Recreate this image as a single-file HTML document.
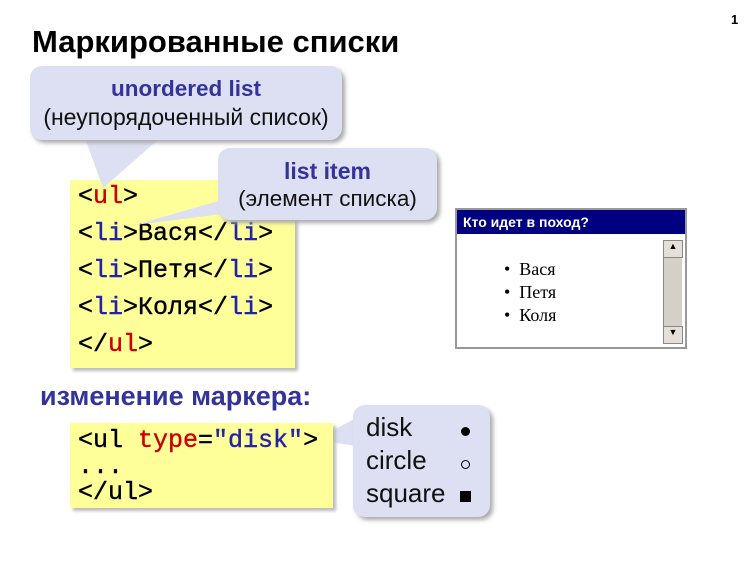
<!DOCTYPE html>
<html><head><meta charset="utf-8"><style>
body{margin:0;width:750px;height:561px;background:#fff;position:relative;overflow:hidden;font-family:"Liberation Sans",sans-serif}
.a{position:absolute}
.code{font-family:"Liberation Mono",monospace;font-size:25px;color:#000;white-space:pre;-webkit-text-stroke:0.4px #000}
.y{background:#ffff99;box-shadow:3px 3px 3px #bbb}
.r{color:#cc0000;-webkit-text-stroke:0.4px #cc0000}.b{color:#2222aa;-webkit-text-stroke:0.4px #2222aa}
.call{background:#dde0f2;border-radius:12px;box-shadow:3px 3px 4px #aaa;text-align:center;color:#111}
</style></head><body>
<div class="a" style="left:731px;top:12px;font-size:13px;font-weight:bold">1</div>
<div class="a" style="left:32px;top:24px;font-size:31px;font-weight:bold;color:#000">Маркированные списки</div>

<div class="a y" style="left:70px;top:180px;width:225px;height:188px"></div>
<div class="a code" style="left:78px;top:178px;line-height:37px">&lt;<span class="r">ul</span>&gt;
&lt;<span class="b">li</span>&gt;Вася&lt;/<span class="b">li</span>&gt;
&lt;<span class="b">li</span>&gt;Петя&lt;/<span class="b">li</span>&gt;
&lt;<span class="b">li</span>&gt;Коля&lt;/<span class="b">li</span>&gt;
&lt;/<span class="r">ul</span>&gt;</div>

<svg class="a" style="left:0;top:0" width="750" height="561">
<polygon points="85,138 160,138 103,188" fill="#dde0f2"/>
<polygon points="222,200 222,214 135,225" fill="#dde0f2"/>
<polygon points="356,418 356,446 315,440" fill="#dde0f2"/>
</svg>
<div class="a call" style="left:30px;top:66px;width:312px;height:74px">
<div style="color:#333399;font-weight:bold;font-size:22.5px;margin-top:10px">unordered list</div>
<div style="font-size:23px;margin-top:2px">(неупорядоченный список)</div></div>
<div class="a call" style="left:218px;top:148px;width:219px;height:72px">
<div style="color:#333399;font-weight:bold;font-size:23px;margin-top:10px">list item</div>
<div style="font-size:22.5px;margin-top:1px">(элемент списка)</div></div>

<div class="a" style="left:455px;top:208px;width:228px;height:137px;border:2px solid #999;background:#fff">
<div style="background:#000080;color:#fff;font-weight:bold;font-size:14px;height:24px;line-height:24px;padding-left:6px">Кто идет в поход?</div>
<div class="a" style="left:206px;top:30px;width:18px;height:104px;background:#d4d0c8;border-left:1px solid #888"></div>
<div class="a" style="left:206px;top:30px;width:18px;height:16px;background:#e4e0d8;border:1px solid #888;font-size:9px;text-align:center">▲</div>
<div class="a" style="left:206px;top:116px;width:18px;height:16px;background:#e4e0d8;border:1px solid #888;font-size:9px;text-align:center">▼</div>
<div class="a" style="left:47px;top:48px;font-family:'Liberation Serif',serif;font-size:18px;line-height:23px">• &nbsp;Вася<br>• &nbsp;Петя<br>• &nbsp;Коля</div>
</div>

<div class="a" style="left:40px;top:381px;font-size:27px;font-weight:bold;color:#333399">изменение маркера:</div>
<div class="a y" style="left:70px;top:423px;width:263px;height:85px"></div>
<div class="a code" style="left:78px;top:428px;line-height:26px">&lt;ul <span class="r">type</span>=<span class="b">"disk"</span>&gt;
...
&lt;/ul&gt;</div>
<div class="a call" style="left:353px;top:405px;width:137px;height:112px;text-align:left">
<div style="font-size:26px;line-height:33px;margin:6px 0 0 13px">disk<br>circle<br>square</div>
<div class="a" style="left:108px;top:22px;width:9px;height:9px;border-radius:50%;background:#000"></div>
<div class="a" style="left:108px;top:55px;width:7px;height:7px;border-radius:50%;border:1px solid #000"></div>
<div class="a" style="left:107px;top:86px;width:11px;height:11px;background:#000"></div>
</div>
</body></html>
